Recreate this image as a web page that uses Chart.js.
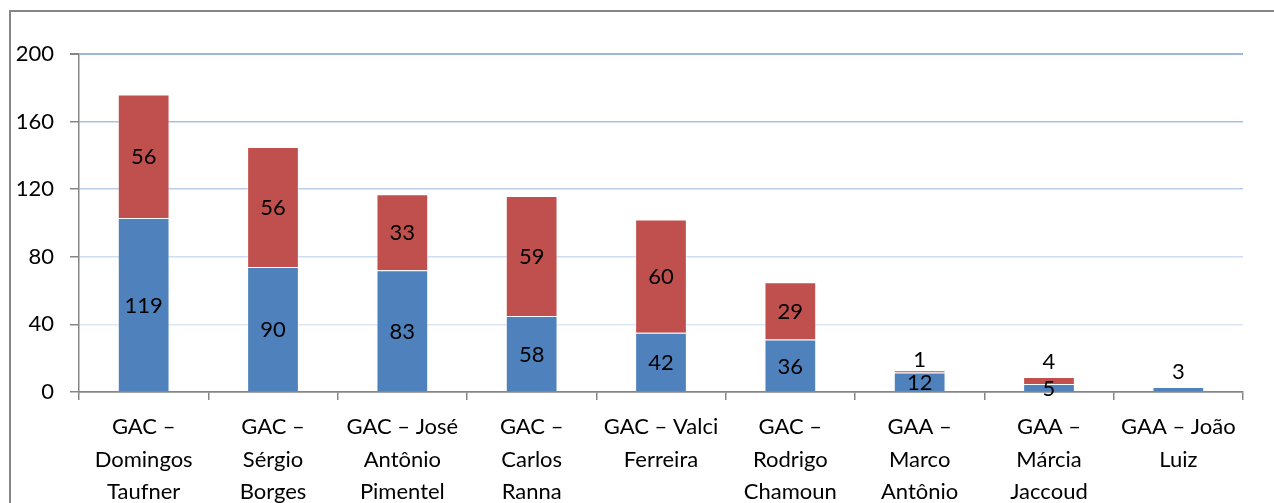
<!DOCTYPE html>
<html lang="pt">
<head>
    <meta charset="UTF-8">
    <title>GAC / GAA</title>
    <script src="https://cdn.jsdelivr.net/npm/chart.js"></script>
    <style>
        html, body { margin: 0; padding: 0; background: #fff; }
        canvas { display: block; }
    </style>
</head>
<body>
    <canvas id="chart" width="1274" height="503"></canvas>
    <script>
        // categories (multi-line labels as in the original)
        const categories = [
            ['GAC –', 'Domingos', 'Taufner'],
            ['GAC –', 'Sérgio', 'Borges'],
            ['GAC – José', 'Antônio', 'Pimentel'],
            ['GAC –', 'Carlos', 'Ranna'],
            ['GAC – Valci', 'Ferreira'],
            ['GAC –', 'Rodrigo', 'Chamoun'],
            ['GAA –', 'Marco', 'Antônio'],
            ['GAA –', 'Márcia', 'Jaccoud'],
            ['GAA – João', 'Luiz']
        ];

        // bar heights as drawn in the picture
        const blueValues = [103, 74, 72, 45, 35, 31, 11.6, 4.7, 2.9];
        const redValues = [73, 71, 45, 71, 67, 34, 1.2, 4.2, 0];

        // data labels as printed on the bars
        const blueLabels = ['119', '90', '83', '58', '42', '36', '12', '5', '3'];
        const redLabels = ['56', '56', '33', '59', '60', '29', '1', '4', null];

        const yTicks = [0, 40, 80, 120, 160, 200];

        const FONT = { family: 'Lato', size: 22 };
        const AXIS_GRAY = '#868686';

        const gridColors = {
            200: '#9db6e1',
            160: '#a9c0e5',
            120: '#bccdeb',
            80: '#cfdcf1',
            40: '#dde6f5',
            0: AXIS_GRAY
        };

        const frame = {
            id: 'frame',
            beforeDraw(chart) {
                const ctx = chart.ctx;
                ctx.save();
                ctx.fillStyle = '#fff';
                ctx.fillRect(0, 0, chart.width, chart.height);
                ctx.strokeStyle = AXIS_GRAY;
                ctx.lineWidth = 2;
                ctx.strokeRect(10, 11, chart.width + 20, chart.height + 20);
                ctx.restore();
            }
        };

        const barLabels = {
            id: 'barLabels',
            afterDatasetsDraw(chart) {
                const ctx = chart.ctx;
                const sets = [blueLabels, redLabels];
                ctx.save();
                ctx.font = FONT.size + 'px ' + FONT.family;
                ctx.fillStyle = '#000';
                ctx.textAlign = 'center';
                ctx.textBaseline = 'middle';
                sets.forEach((labels, di) => {
                    const meta = chart.getDatasetMeta(di);
                    meta.data.forEach((bar, i) => {
                        const txt = labels[i];
                        if (txt === null) return;
                        const p = bar.getProps(['x', 'y', 'base'], true);
                        const h = p.base - p.y;
                        const isTop = di === 1 || !redValues[i];
                        let y = (p.y + p.base) / 2;
                        // small top segments: label sits above the bar
                        if (h < 18 && isTop) y = p.y - (h > 4 ? 16 : 11);
                        ctx.fillText(txt, p.x, y + 1);
                    });
                });
                ctx.restore();
            }
        };

        new Chart(document.getElementById('chart'), {
            type: 'bar',
            data: {
                labels: categories,
                datasets: [
                    {
                        data: blueValues,
                        backgroundColor: '#4f81bd',
                        borderColor: 'rgba(255,255,255,0.35)',
                        borderWidth: 1,
                        barPercentage: 0.4,
                        categoryPercentage: 1
                    },
                    {
                        data: redValues,
                        backgroundColor: '#c0504d',
                        borderColor: 'rgba(255,255,255,0.35)',
                        borderWidth: 1,
                        barPercentage: 0.4,
                        categoryPercentage: 1
                    }
                ]
            },
            options: {
                responsive: false,
                animation: false,
                layout: { padding: { top: 54, right: 31, bottom: 0, left: 0 } },
                plugins: {
                    legend: { display: false },
                    tooltip: { enabled: false }
                },
                scales: {
                    x: {
                        stacked: true,
                        border: { color: AXIS_GRAY, width: 1.5 },
                        grid: {
                            drawOnChartArea: false,
                            offset: true,
                            tickLength: 8,
                            tickColor: AXIS_GRAY,
                            lineWidth: 1.5
                        },
                        ticks: {
                            color: '#000',
                            font: { family: FONT.family, size: FONT.size, lineHeight: 1.48 },
                            padding: 11,
                            maxRotation: 0,
                            autoSkip: false
                        },
                        afterFit(scale) { scale.height = 111; }
                    },
                    y: {
                        stacked: true,
                        min: 0,
                        max: 200,
                        border: { color: AXIS_GRAY, width: 1.5 },
                        afterBuildTicks(scale) {
                            scale.ticks = yTicks.map(v => ({ value: v }));
                        },
                        grid: {
                            color: c => gridColors[c.tick.value] || '#dde6f5',
                            lineWidth: c => (c.tick.value === 200 ? 2 : 1.5),
                            tickLength: 9,
                            tickColor: AXIS_GRAY
                        },
                        ticks: {
                            color: '#000',
                            font: FONT,
                            padding: 16
                        },
                        afterFit(scale) { scale.width = 79; }
                    }
                }
            },
            plugins: [frame, barLabels]
        });
    </script>
</body>
</html>
